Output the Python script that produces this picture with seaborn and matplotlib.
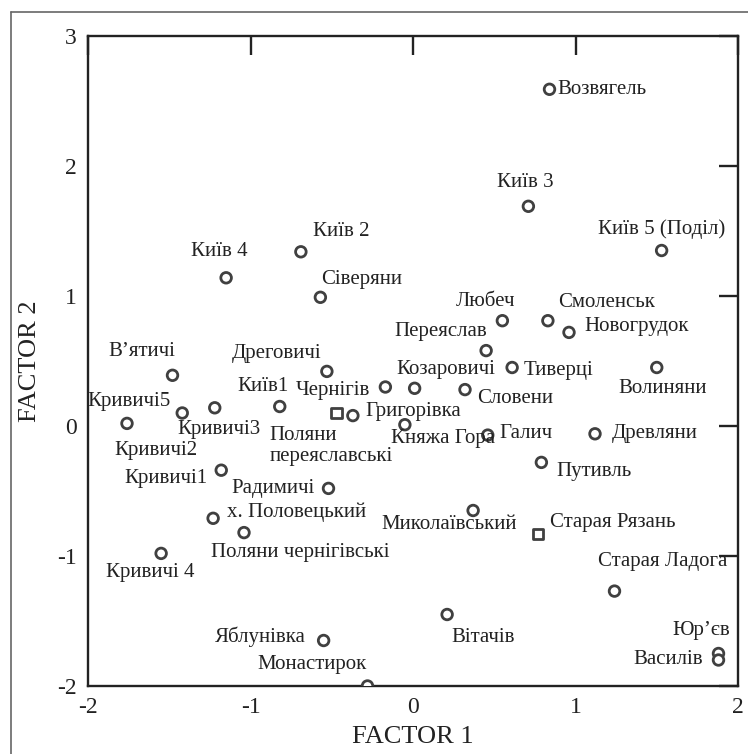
import pandas as pd
import matplotlib.pyplot as plt
from matplotlib.lines import Line2D
import seaborn as sns

# --- Data: factor scores ---
names = [
    'Возвягель', 'Київ 3', 'Київ 5 (Поділ)', 'Київ 2', 'Київ 4', 'Сіверяни',
    'Любеч', 'Смоленськ', 'Новогрудок', 'Переяслав', 'Тиверці', 'Волиняни',
    'Козаровичі', 'Словени', 'Чернігів', 'Дреговичі', 'В’ятичі', 'Кривичі5',
    'Кривичі2', 'Кривичі3', 'Київ1', 'Поляни\nпереяславські', 'Григорівка',
    'Княжа Гора', 'Галич', 'Древляни', 'Путивль', 'Кривичі1', 'Радимичі',
    'х. Половецький', 'Поляни чернігівські', 'Кривичі 4', 'Миколаївський',
    'Старая Рязань', 'Старая Ладога', 'Вітачів', 'Яблунівка', 'Монастирок',
    'Юр’єв', 'Василів',
]
factor1 = [
    0.84, 0.71, 1.53, -0.69, -1.15, -0.57,
    0.55, 0.83, 0.96, 0.45, 0.61, 1.50,
    0.01, 0.32, -0.17, -0.53, -1.48, -1.76,
    -1.42, -1.22, -0.82, -0.47, -0.37,
    -0.05, 0.46, 1.12, 0.79, -1.18, -0.52,
    -1.23, -1.04, -1.55, 0.37,
    0.77, 1.24, 0.21, -0.55, -0.28,
    1.88, 1.88,
]
factor2 = [
    2.59, 1.69, 1.35, 1.34, 1.14, 0.99,
    0.81, 0.81, 0.72, 0.58, 0.45, 0.45,
    0.29, 0.28, 0.30, 0.42, 0.39, 0.02,
    0.10, 0.14, 0.15, 0.10, 0.08,
    0.01, -0.07, -0.06, -0.28, -0.34, -0.48,
    -0.71, -0.82, -0.98, -0.65,
    -0.83, -1.27, -1.45, -1.65, -2.00,
    -1.75, -1.80,
]
shapes = ['o'] * len(names)
shapes[names.index('Поляни\nпереяславські')] = 's'
shapes[names.index('Старая Рязань')] = 's'

x_ticks = [-2, -1, 0, 1, 2]
y_ticks = [-2, -1, 0, 1, 2, 3]

# label placement: (dx px, dy px, horizontal alignment)
label_pos = {
    'Возвягель': (8, 0, 'left'), 'Київ 3': (-3, 24, 'center'),
    'Київ 5 (Поділ)': (0, 21, 'center'), 'Київ 2': (40, 20, 'center'),
    'Київ 4': (-7, 26, 'center'), 'Сіверяни': (41, 18, 'center'),
    'Любеч': (-17, 19, 'center'), 'Смоленськ': (10, 18, 'left'),
    'Новогрудок': (15, 6, 'left'), 'Переяслав': (1, 19, 'right'),
    'Тиверці': (11, -3, 'left'), 'Волиняни': (6, -21, 'center'),
    'Козаровичі': (31, 19, 'center'), 'Словени': (12, -9, 'left'),
    'Чернігів': (-15, -3, 'right'), 'Дреговичі': (-5, 18, 'right'),
    'В’ятичі': (-31, 24, 'center'), 'Кривичі5': (2, 22, 'center'),
    'Кривичі2': (-26, -37, 'center'), 'Кривичі3': (4, -22, 'center'),
    'Київ1': (-17, 20, 'center'), 'Поляни\nпереяславські': (-67, -33, 'left'),
    'Григорівка': (12, 4, 'left'), 'Княжа Гора': (38, -14, 'center'),
    'Галич': (12, 2, 'left'), 'Древляни': (17, 0, 'left'),
    'Путивль': (15, -9, 'left'), 'Кривичі1': (-14, -8, 'right'),
    'Радимичі': (-14, 0, 'right'), 'х. Половецький': (14, 6, 'left'),
    'Поляни чернігівські': (56, -20, 'center'), 'Кривичі 4': (-11, -19, 'center'),
    'Миколаївський': (-24, -14, 'center'), 'Старая Рязань': (12, 11, 'left'),
    'Старая Ладога': (48, 30, 'center'), 'Вітачів': (36, -23, 'center'),
    'Яблунівка': (-18, 4, 'right'), 'Монастирок': (-56, 22, 'center'),
    'Юр’єв': (-17, 23, 'center'), 'Василів': (-16, 0, 'right'),
}

df = pd.DataFrame({'name': names, 'f1': factor1, 'f2': factor2, 'shape': shapes})

sns.set_style('white')
plt.rcParams['font.family'] = ['Liberation Serif', 'DejaVu Serif']
ink = '#222222'

fig = plt.figure(figsize=(7.48, 7.54), dpi=100)
ax = fig.add_axes([88 / 748, 1 - 686 / 754, 650 / 748, 650 / 754])

sns.scatterplot(data=df, x='f1', y='f2', style='shape', markers={'o': 'o', 's': 's'},
                s=58, facecolor='white', edgecolor='#404040', linewidth=2.0,
                legend=False, ax=ax, zorder=3)

for n, x, y in zip(names, factor1, factor2):
    dx, dy, ha = label_pos[n]
    ax.annotate(n, (x, y), xytext=(dx, dy), textcoords='offset pixels',
                ha=ha, va='center', fontsize=15, color=ink, linespacing=1.2)

ax.set_xlim(-2, 2)
ax.set_ylim(-2, 3)
ax.set_xticks(x_ticks)
ax.set_yticks(y_ticks)
ax.set_xticklabels([str(t) for t in x_ticks])
ax.set_yticklabels([str(t) for t in y_ticks])
ax.tick_params(direction='in', length=14, width=1.7, color=ink, labelsize=17,
               labelcolor=ink, top=True, right=True, pad=8)
for sp in ax.spines.values():
    sp.set_color(ink)
    sp.set_linewidth(1.7)

ax.set_xlabel('FACTOR 1', fontsize=19, color=ink)
ax.set_ylabel('FACTOR 2', fontsize=19, color=ink)
ax.xaxis.set_label_coords(0.5, -0.062)
ax.yaxis.set_label_coords(-0.072, 0.5)

# outer frame of the figure (left and top edges)
fx, fy = 11 / 748, 1 - 12 / 754
fig.add_artist(Line2D([fx, fx], [0, fy], transform=fig.transFigure, color='#666666', lw=1.2))
fig.add_artist(Line2D([fx, 1], [fy, fy], transform=fig.transFigure, color='#666666', lw=1.2))

fig.savefig('out.png', dpi=100)
